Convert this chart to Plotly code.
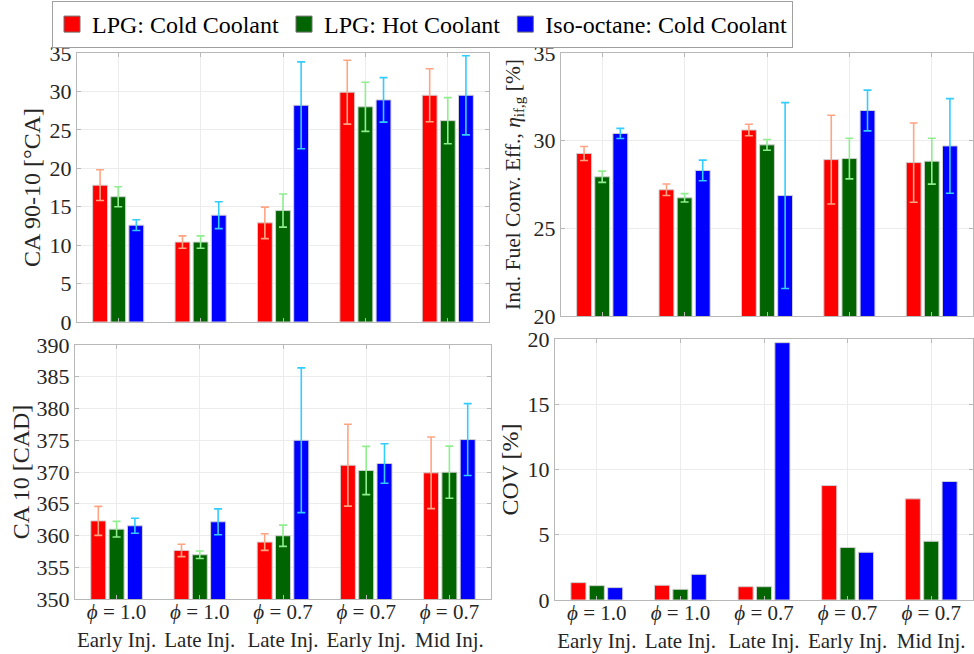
import plotly.graph_objects as go

categories = ["<i>ϕ</i> = 1.0<br>Early Inj.", "<i>ϕ</i> = 1.0<br>Late Inj.", "<i>ϕ</i> = 0.7<br>Late Inj.",
              "<i>ϕ</i> = 0.7<br>Early Inj.", "<i>ϕ</i> = 0.7<br>Mid Inj."]
series_names = ["LPG: Cold Coolant", "LPG: Hot Coolant", "Iso-octane: Cold Coolant"]

# CA 90-10 [°CA]
ca9010 = [[17.8, 10.4, 12.9, 29.9, 29.5],
          [16.3, 10.4, 14.5, 28.0, 26.2],
          [12.6, 13.9, 28.2, 28.9, 29.5]]
ca9010_err = [[2.0, 0.8, 2.05, 4.15, 3.45],
              [1.3, 0.8, 2.15, 3.2, 3.0],
              [0.7, 1.75, 5.65, 2.9, 5.15]]

# Indicated fuel conversion efficiency [%]
eff = [[29.27, 27.2, 30.61, 28.92, 28.75],
       [27.94, 26.74, 29.76, 28.98, 28.83],
       [30.41, 28.3, 26.87, 31.72, 29.70]]
eff_err = [[0.40, 0.33, 0.33, 2.53, 2.26],
           [0.32, 0.24, 0.31, 1.16, 1.31],
           [0.29, 0.59, 5.30, 1.16, 2.70]]

# CA 10 [CAD]
ca10 = [[362.3, 357.65, 358.96, 371.07, 369.87],
        [361.0, 356.97, 359.96, 370.24, 369.97],
        [361.53, 362.16, 375.0, 371.34, 375.11]]
ca10_err = [[2.28, 0.97, 1.31, 6.45, 5.63],
            [1.23, 0.60, 1.68, 3.80, 4.10],
            [1.18, 2.04, 11.4, 3.10, 5.66]]

# COV [%]
cov = [[1.33, 1.13, 1.02, 8.77, 7.75],
       [1.10, 0.82, 1.02, 4.02, 4.50],
       [0.95, 1.97, 19.72, 3.66, 9.08]]

bar_colors = ["#FF0000", "#006400", "#0000FF"]
err_colors = ["#FFA584", "#90EE90", "#33CCFF"]

FONT = "Liberation Serif"
W, H = 974, 654

fig = go.Figure()
xs = list(range(len(categories)))

panels = [
    ("x", "y", ca9010, ca9010_err),
    ("x2", "y2", eff, eff_err),
    ("x3", "y3", ca10, ca10_err),
    ("x4", "y4", cov, None),
]

for p, (xa, ya, vals, errs) in enumerate(panels):
    for i in range(3):
        kw = {}
        if errs is not None:
            kw["error_y"] = dict(type="data", array=errs[i], visible=True,
                                 color=err_colors[i], thickness=1.6, width=4)
        fig.add_trace(go.Bar(
            x=xs, y=vals[i], name=series_names[i], xaxis=xa, yaxis=ya,
            marker=dict(color=bar_colors[i], line=dict(color="#d0d0d0", width=1)),
            showlegend=False, legendgroup=series_names[i], **kw))

# legend entries (larger swatches than the bar default)
for i in range(3):
    fig.add_trace(go.Scatter(
        x=[None], y=[None], mode="markers", name=series_names[i],
        legendgroup=series_names[i], xaxis="x", yaxis="y",
        marker=dict(symbol="square", size=16, color=bar_colors[i],
                    line=dict(color="#707070", width=1))))


def dx(a, b):
    return [a / W, b / W]


def dy(top, bottom):
    return [1 - bottom / H, 1 - top / H]


axis_common = dict(showline=True, linecolor="#b8b8b8", linewidth=1, mirror="ticks",
                   ticks="inside", ticklen=4, tickcolor="#b8b8b8",
                   showgrid=True, gridcolor="#ececec", gridwidth=1, zeroline=False,
                   tickfont=dict(family=FONT, size=22, color="#262626"))

xcommon = dict(axis_common, tickvals=xs, ticktext=categories, range=[-0.5, 4.5],
               tickfont=dict(family=FONT, size=21, color="#262626"), ticklabelstandoff=-6)

fig.update_layout(
    width=W, height=H,
    margin=dict(l=0, r=0, t=0, b=0, autoexpand=False),
    paper_bgcolor="white", plot_bgcolor="white",
    barmode="group", bargap=0.34, bargroupgap=0.18,
    font=dict(family=FONT, size=22, color="#262626"),
    legend=dict(orientation="h", x=52 / W, y=1 - 1 / H, xanchor="left", yanchor="top",
                bordercolor="#a0a0a0", borderwidth=1, bgcolor="white",
                font=dict(family=FONT, size=24, color="#000000"),
                itemsizing="trace", tracegroupgap=0, itemwidth=30),
    xaxis=dict(xcommon, domain=dx(77, 489), anchor="y", showticklabels=False),
    yaxis=dict(axis_common, domain=dy(53, 322), anchor="x", range=[0, 35], dtick=5,
               title=dict(text="CA 90-10 [°CA]", font=dict(family=FONT, size=24), standoff=2)),
    xaxis2=dict(xcommon, domain=dx(561, 973), anchor="y2", showticklabels=False),
    yaxis2=dict(axis_common, domain=dy(53, 316), anchor="x2", range=[20, 35], dtick=5,
                title=dict(text="Ind. Fuel Conv. Eff., <i>η</i><sub>if,g</sub> [%]",
                           font=dict(family=FONT, size=21.5), standoff=7)),
    xaxis3=dict(xcommon, domain=dx(75, 491), anchor="y3"),
    yaxis3=dict(axis_common, domain=dy(345, 599), anchor="x3", range=[350, 390], dtick=5,
                title=dict(text="CA 10 [CAD]", font=dict(family=FONT, size=24), standoff=0)),
    xaxis4=dict(xcommon, domain=dx(555, 973), anchor="y4"),
    yaxis4=dict(axis_common, domain=dy(339, 600), anchor="x4", range=[0, 20], dtick=5,
                title=dict(text="COV [%]", font=dict(family=FONT, size=24), standoff=2)),
)

fig.write_html("out.html")
